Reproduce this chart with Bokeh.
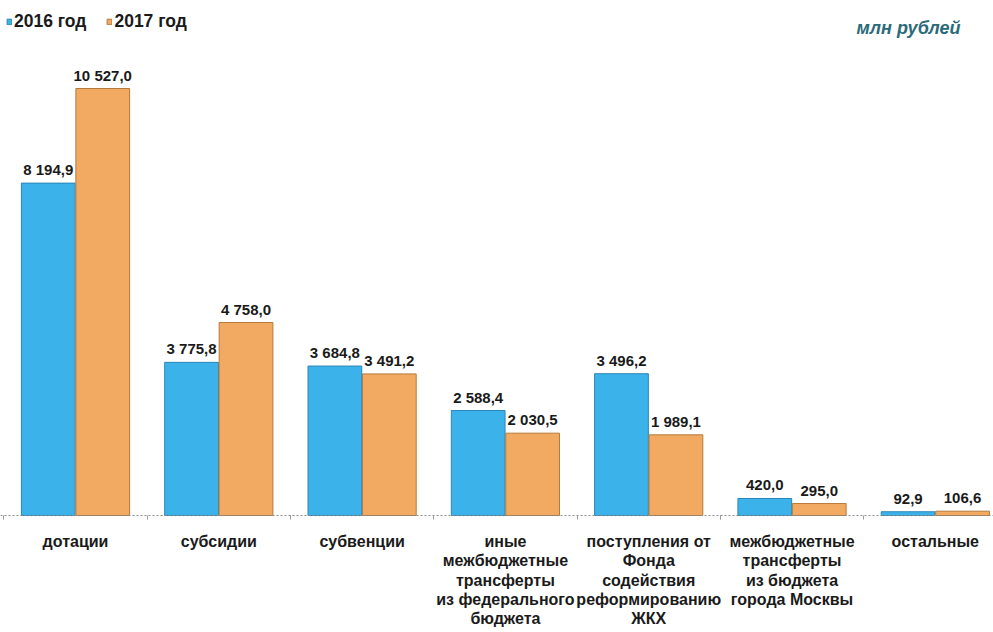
from bokeh.plotting import figure
from bokeh.models import (Range1d, FixedTicker, ColumnDataSource, Legend, LegendItem,
                          Label, LabelSet)
from bokeh.transform import dodge
from bokeh.core.properties import value
from bokeh.embed import file_html
from bokeh.resources import INLINE

categories = ["дотации", "субсидии", "субвенции",
              "иные\nмежбюджетные\nтрансферты\nиз федерального\nбюджета",
              "поступления от\nФонда\nсодействия\nреформированию\nЖКХ",
              "межбюджетные\nтрансферты\nиз бюджета\nгорода Москвы",
              "остальные"]
v2016 = [8194.9, 3775.8, 3684.8, 2588.4, 3496.2, 420.0, 92.9]
v2017 = [10527.0, 4758.0, 3491.2, 2030.5, 1989.1, 295.0, 106.6]
series_names = ["2016 год", "2017 год"]
unit_label = "млн рублей"


def fmt(v):
    return f"{v:,.1f}".replace(",", " ").replace(".", ",")


idx = list(range(len(categories)))
src = ColumnDataSource(dict(
    x=idx,
    v2016=v2016, v2017=v2017,
    l2016=[fmt(v) for v in v2016],
    l2017=[fmt(v) for v in v2017],
))

# one row per text line of each category label (each line centred on its own)
LINE_STEP = 19.3
FIRST_OFF = -26
lx, lt, lo, lz = [], [], [], []
for i, c in zip(idx, categories):
    for j, line in enumerate(c.split("\n")):
        lx.append(i)
        lt.append(line)
        lo.append(FIRST_OFF - LINE_STEP * j)
        lz.append(0)
cat_src = ColumnDataSource(dict(x=lx, text=lt, off=lo, zero=lz))

BLUE = "#3cb2ea"
BLUE_EDGE = "#2a86b8"
ORANGE = "#f2aa62"
ORANGE_EDGE = "#b5793a"
FONT = "Liberation Sans"
TXT = "#1a1a1a"

YMAX = 12697
YMIN = -2884
p = figure(width=993, height=632, output_backend="svg", toolbar_location=None,
           x_range=Range1d(-0.5234, 6.406), y_range=Range1d(YMIN, YMAX),
           min_border_left=0, min_border_right=0, min_border_top=0, min_border_bottom=0)
p.outline_line_color = None
p.xgrid.visible = False
p.ygrid.visible = False
p.yaxis.visible = False
p.background_fill_color = "white"

r1 = p.vbar(x=dodge("x", -0.19, range=p.x_range), top="v2016", width=0.375, source=src,
            fill_color=BLUE, line_color=BLUE_EDGE, line_width=1)
r2 = p.vbar(x=dodge("x", 0.19, range=p.x_range), top="v2017", width=0.375, source=src,
            fill_color=ORANGE, line_color=ORANGE_EDGE, line_width=1)

for col, lab, off in [("v2016", "l2016", -0.19), ("v2017", "l2017", 0.19)]:
    p.add_layout(LabelSet(x=dodge("x", off, range=p.x_range), y=col, text=lab, source=src,
                          text_align="center", text_baseline="alphabetic", y_offset=8,
                          text_font=value(FONT), text_font_size="15px",
                          text_font_style="bold", text_color=TXT))

# category labels under the baseline
p.add_layout(LabelSet(x="x", y="zero", text="text", source=cat_src, y_offset="off",
                      text_align="center", text_baseline="middle",
                      text_font=value(FONT), text_font_size="16px", text_font_style="bold",
                      text_color=TXT))

ax = p.xaxis[0]
ax.fixed_location = 0
ax.ticker = FixedTicker(ticks=[], minor_ticks=[i + 0.5 for i in idx[:-1]] + [-0.5])
ax.major_label_text_font_size = "0px"
ax.major_label_standoff = 0
ax.major_tick_out = 0
ax.major_tick_in = 0
ax.minor_tick_out = 4
ax.minor_tick_in = 0
ax.minor_tick_line_color = "#999999"
ax.axis_line_color = "#8a8a8a"
ax.axis_line_dash = "2 2"

legend = Legend(items=[LegendItem(label=series_names[0], renderers=[r1]),
                       LegendItem(label=series_names[1], renderers=[r2])],
                location="top_left", orientation="horizontal",
                border_line_color=None, background_fill_alpha=0,
                margin=6, padding=6, spacing=20, label_standoff=2,
                glyph_width=6, glyph_height=7, label_height=30,
                label_text_font=FONT, label_text_font_size="17.5px",
                label_text_font_style="bold", label_text_color=TXT)
p.add_layout(legend)

p.add_layout(Label(x=6.176, y=12031, text=unit_label, text_align="right",
                   text_baseline="middle", text_font=FONT, text_font_size="18px",
                   text_font_style="bold italic", text_color="#2b6a7a"))

open("out.html", "w").write(file_html(p, INLINE))
